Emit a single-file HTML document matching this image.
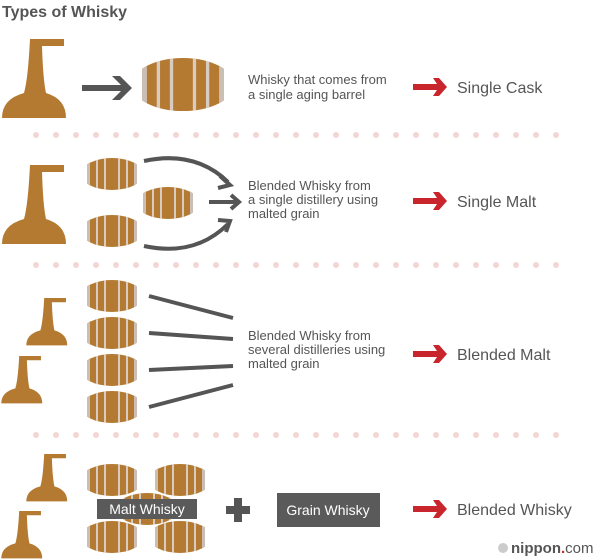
<!DOCTYPE html>
<html><head><style>
body{margin:0;background:#fff;}
svg{display:block;font-family:"Liberation Sans",Arial,sans-serif;}
</style></head><body>
<svg width="600" height="560" viewBox="0 0 600 560" xmlns="http://www.w3.org/2000/svg">
<defs>
<clipPath id="bc"><rect x="0" y="0" width="50" height="32"/></clipPath>
<clipPath id="bc2"><ellipse cx="25" cy="16" rx="31" ry="16"/></clipPath>
<g id="barrel">
 <g clip-path="url(#bc)">
 <g clip-path="url(#bc2)">
  <rect x="0" y="0" width="50" height="32" fill="#b57a32"/>
  <rect x="0" y="0" width="3" height="32" fill="#cbbfb5"/>
  <rect x="47" y="0" width="3" height="32" fill="#cbbfb5"/>
  <rect x="9" y="0" width="2" height="32" fill="#d8ccc2"/>
  <rect x="17" y="0" width="2" height="32" fill="#d8ccc2"/>
  <rect x="31" y="0" width="2" height="32" fill="#d8ccc2"/>
  <rect x="39" y="0" width="2" height="32" fill="#d8ccc2"/>
 </g>
 </g>
</g>
<g id="still">
 <path d="M30,0 H64 V7 H42 Q43,40 46,54 Q66,60 66,79 H2 Q2,60 24,54 Q28,40 30,0 Z" fill="#b57a32"/>
</g>
<g id="redarrow">
 <path d="M0,-3 H24 L20,-9 H26 L34,0 L26,9 H20 L24,3 H0 Z" fill="#c8262c"/>
</g>
<pattern id="dots" x="33" y="0" width="20" height="10" patternUnits="userSpaceOnUse">
 <circle cx="3" cy="5" r="3" fill="#f3d6d3"/>
</pattern>
</defs>

<text x="2" y="17" font-size="16" font-weight="bold" fill="#555">Types of Whisky</text>

<rect x="30" y="130" width="530" height="10" fill="url(#dots)"/>
<rect x="30" y="260" width="530" height="10" fill="url(#dots)"/>
<rect x="30" y="431" width="530" height="10" fill="url(#dots)"/>

<!-- Row 1 -->
<use href="#still" x="0" y="39"/>
<path d="M82,85 H124 V91 H82 Z" fill="#555"/>
<path d="M112,76 L120,76 L132,88 L120,100 L112,100 L124,88 Z" fill="#555"/>
<use href="#barrel" transform="translate(142,58) scale(1.64,1.66)"/>
<text font-size="13" fill="#555"><tspan x="248" y="84">Whisky that comes from</tspan><tspan x="248" y="99">a single aging barrel</tspan></text>
<use href="#redarrow" x="413" y="87"/>
<text x="457" y="93" font-size="16" fill="#555">Single Cask</text>

<!-- Row 2 -->
<use href="#still" x="0" y="165"/>
<use href="#barrel" x="87" y="158"/>
<use href="#barrel" x="143" y="187"/>
<use href="#barrel" x="87" y="215"/>
<path d="M144,161 Q195,150 228,182" fill="none" stroke="#555" stroke-width="4"/>
<path d="M220,176 L230,185 L218,188" fill="none" stroke="#555" stroke-width="4"/>
<path d="M209,202 H238" stroke="#555" stroke-width="4"/>
<path d="M231,195 L239,202 L231,209" fill="none" stroke="#555" stroke-width="4"/>
<path d="M144,246 Q195,257 228,224" fill="none" stroke="#555" stroke-width="4"/>
<path d="M218,220 L230,221 L226,232" fill="none" stroke="#555" stroke-width="4"/>
<text font-size="13" fill="#555"><tspan x="248" y="190">Blended Whisky from</tspan><tspan x="248" y="204">a single distillery using</tspan><tspan x="248" y="218">malted grain</tspan></text>
<use href="#redarrow" x="413" y="201"/>
<text x="457" y="207" font-size="16" fill="#555">Single Malt</text>

<!-- Row 3 -->
<use href="#still" transform="translate(25,298) scale(0.64,0.6)"/>
<use href="#still" transform="translate(0,356) scale(0.64,0.6)"/>
<use href="#barrel" x="87" y="280"/>
<use href="#barrel" x="87" y="317"/>
<use href="#barrel" x="87" y="354"/>
<use href="#barrel" x="87" y="391"/>
<g stroke="#555" stroke-width="4">
<line x1="149" y1="296" x2="233" y2="318"/>
<line x1="149" y1="333" x2="233" y2="339"/>
<line x1="149" y1="370" x2="233" y2="366"/>
<line x1="149" y1="407" x2="233" y2="385"/>
</g>
<text font-size="13" fill="#555"><tspan x="248" y="340">Blended Whisky from</tspan><tspan x="248" y="354">several distilleries using</tspan><tspan x="248" y="368">malted grain</tspan></text>
<use href="#redarrow" x="413" y="354"/>
<text x="457" y="360" font-size="16" fill="#555">Blended Malt</text>

<!-- Row 4 -->
<use href="#still" transform="translate(25,454) scale(0.64,0.6)"/>
<use href="#still" transform="translate(0,511) scale(0.64,0.6)"/>
<use href="#barrel" x="87" y="464"/>
<use href="#barrel" x="155" y="464"/>
<use href="#barrel" x="122" y="493"/>
<use href="#barrel" x="87" y="521"/>
<use href="#barrel" x="155" y="521"/>
<rect x="97" y="499" width="100" height="20" fill="#5a5a5a"/>
<text x="147" y="514" font-size="14" fill="#fff" text-anchor="middle">Malt Whisky</text>
<path d="M234,498 H242 V506 H250 V514 H242 V522 H234 V514 H226 V506 H234 Z" fill="#555"/>
<rect x="277" y="493" width="103" height="34" fill="#5a5a5a"/>
<text x="328" y="515" font-size="14" fill="#fff" text-anchor="middle">Grain Whisky</text>
<use href="#redarrow" x="413" y="509"/>
<text x="457" y="515" font-size="16" fill="#555">Blended Whisky</text>

<circle cx="503" cy="548" r="5" fill="#ccc"/>
<text x="511" y="553" font-size="15" font-weight="bold" fill="#555">nippon<tspan fill="#c8262c">.</tspan><tspan font-weight="normal">com</tspan></text>
</svg>
</body></html>
